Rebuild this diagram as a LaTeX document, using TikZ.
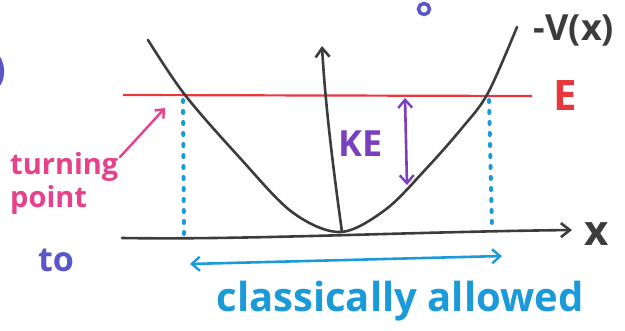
\documentclass[tikz,border=0pt]{standalone}
\usepackage{fontspec}
\setmainfont{Open Sans}
\usetikzlibrary{arrows.meta}
\definecolor{pen}{HTML}{3C3C3C}
\definecolor{ered}{HTML}{E8383D}
\definecolor{tpink}{HTML}{E8408A}
\definecolor{kepurple}{HTML}{7A3FBF}
\definecolor{toblue}{HTML}{5A55C8}
\definecolor{cyanpen}{HTML}{1A9AD8}
\tikzset{
  ink/.style={line width=2.6pt, line cap=round, line join=round},
  lbl/.style={inner sep=0pt, anchor=center},
  tip/.style={-{Straight Barb[length=9pt,width=14pt,line width=2.6pt]}},
  dtip/.style={{Straight Barb[length=8pt,width=14pt,line width=2.4pt]}-{Straight Barb[length=8pt,width=14pt,line width=2.4pt]}},
  dots/.style={cyanpen, line width=4pt, line cap=round, dash pattern=on 2pt off 9pt},
}
\begin{document}
\begin{tikzpicture}[x=1pt,y=-1pt]
\useasboundingbox (0,0) rectangle (625,330);
% partial marks cut by the crop
\draw[toblue, line width=3.5pt] (424,9) ellipse (5.5 and 5.5);
\fill[toblue] (-4,52) .. controls (6,60) and (7,80) .. (-2,88) -- cycle;
% energy line
\coordinate (eL) at (123,95);
\coordinate (eR) at (532,96);
\draw[ered, line width=2.2pt] (eL) -- (eR);
\node[lbl, text=ered, font=\fontsize{42}{42}\selectfont\bfseries] (E) at (565,96) {E};
% x axis
\coordinate (xL) at (122,238);
\coordinate (xR) at (572,230);
\draw[pen, ink, tip] (xL) .. controls (250,240) and (400,232) .. (xR);
\node[lbl, text=pen, font=\fontsize{42}{42}\selectfont\bfseries] (xlab) at (597,234) {x};
% vertical axis
\coordinate (o) at (342,232);
\coordinate (vtop) at (322,46);
\draw[pen, ink, tip] (o) .. controls (332,160) and (325,100) .. (vtop);
% potential
\draw[pen, ink] plot[smooth, tension=0.55] coordinates {(148,40) (185,95) (240,158) (292,212) (340,232) (385,210) (425,170) (462,128) (488,93) (517,27)};
\node[lbl, text=pen, font=\fontsize{36}{36}\selectfont\bfseries] (vlab) at (574,30) {-V(x)};
% turning point dotted lines
\coordinate (tl1) at (183,100);
\coordinate (tl2) at (184,236);
\coordinate (tr1) at (489,100);
\coordinate (tr2) at (492,230);
\draw[dots] (tl1) -- (tl2);
\draw[dots] (tr1) -- (tr2);
% KE
\coordinate (k1) at (405,98);
\coordinate (k2) at (407,185);
\draw[kepurple, line width=2.6pt, line cap=round, dtip] (k1) -- (k2);
\node[lbl, text=kepurple, font=\fontsize{36}{36}\selectfont\bfseries] (KE) at (361,144) {KE};
% turning point label
\node[lbl, text=tpink, font=\fontsize{29}{33}\selectfont\bfseries, align=left, anchor=north west] (tp) at (10,152) {turning\\point};
\coordinate (tptip) at (165,108);
\draw[tpink, line width=2.4pt, line cap=round, -{Straight Barb[length=7pt,width=12pt,line width=2.4pt]}] (120,157) -- (tptip);
% to
\node[lbl, text=toblue, font=\fontsize{34}{34}\selectfont\bfseries] (to) at (56,260) {to};
% classically allowed
\coordinate (a1) at (190,264);
\coordinate (a2) at (502,256);
\draw[cyanpen, line width=2.6pt, line cap=round, dtip] (a1) -- (a2);
\node[lbl, text=cyanpen, font=\fontsize{40}{40}\selectfont\bfseries] (ca) at (400,301) {classically allowed};
\end{tikzpicture}
\end{document}
